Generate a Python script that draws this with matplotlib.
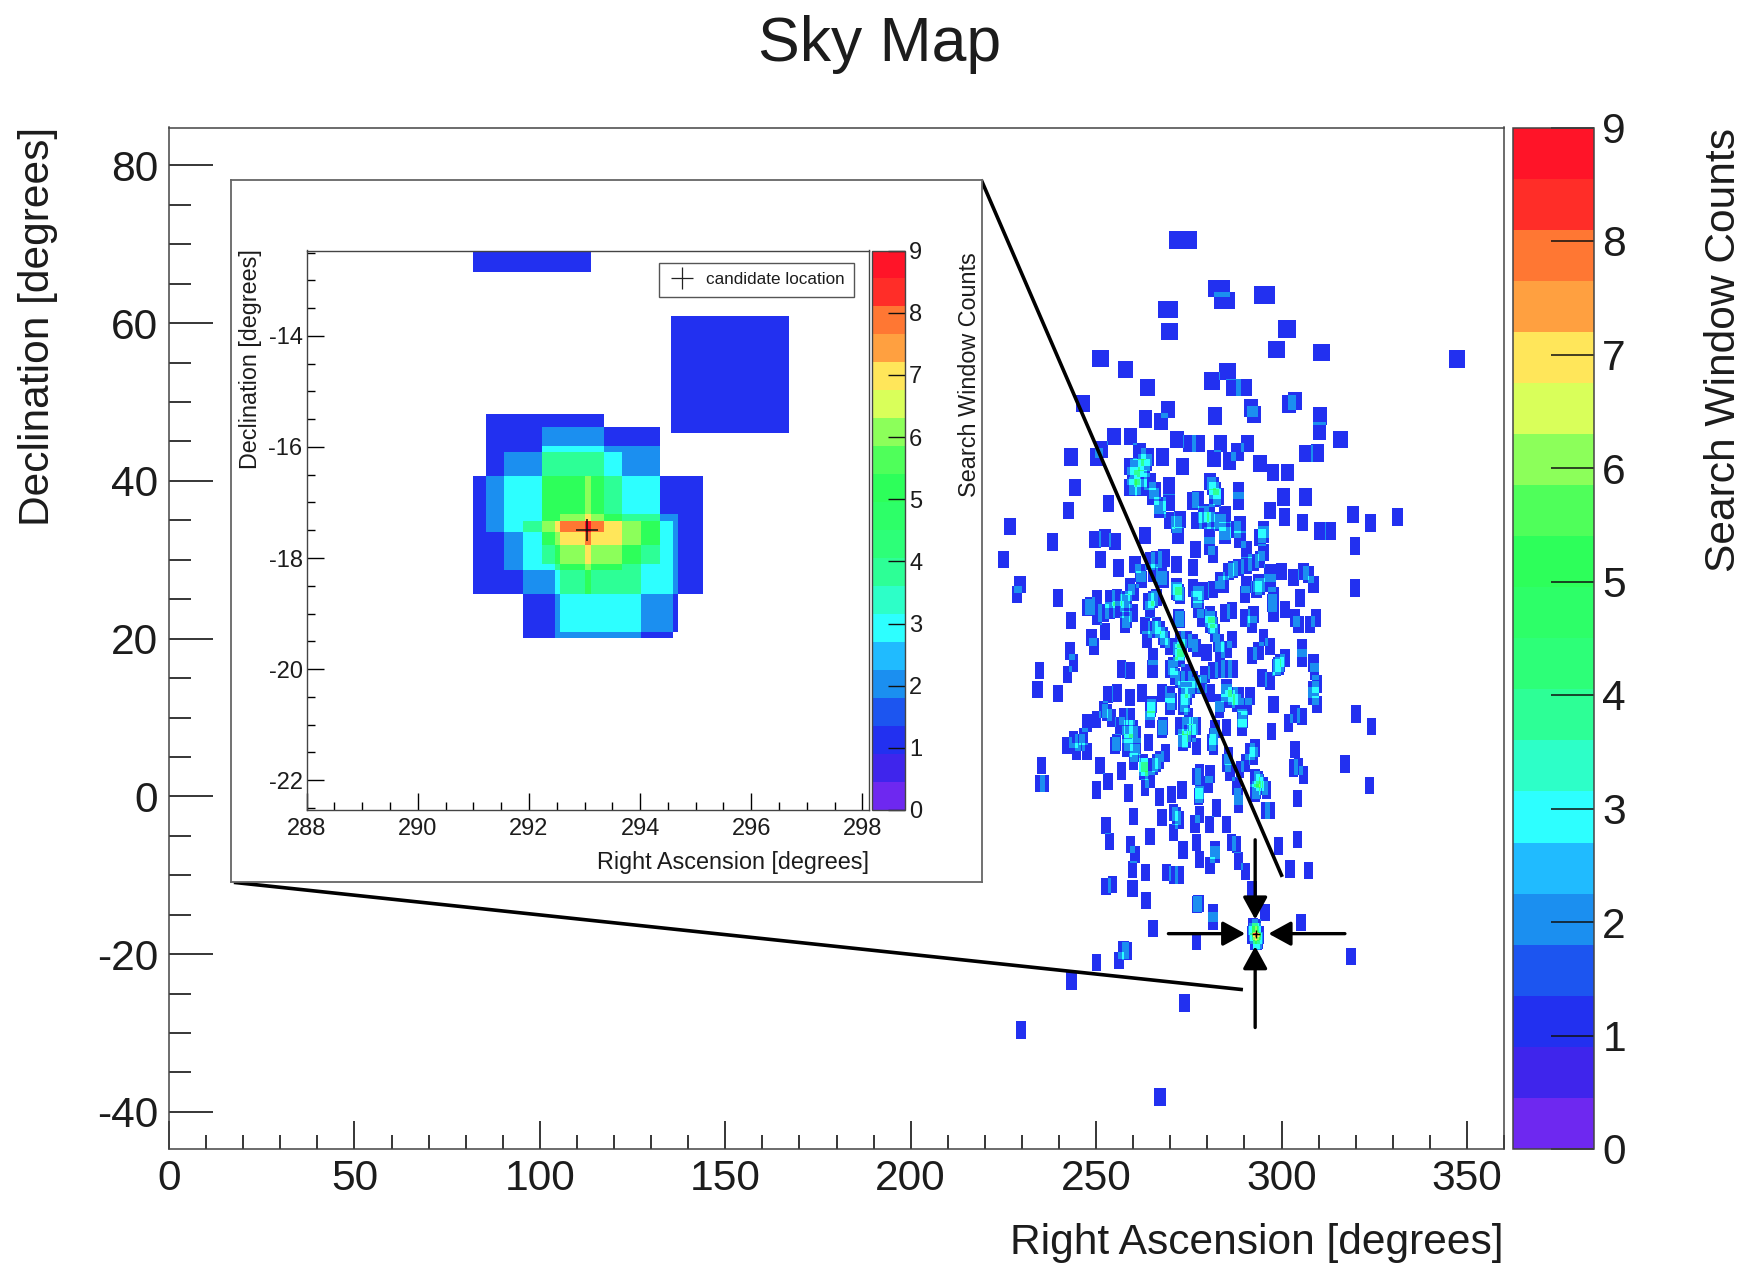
#!/usr/bin/env python3
"""Sky map of search window counts with a zoomed inset around the candidate."""
import matplotlib
matplotlib.use('Agg')
import matplotlib.pyplot as plt
from matplotlib.cm import ScalarMappable
from matplotlib.colors import BoundaryNorm, ListedColormap
from matplotlib.lines import Line2D
from matplotlib.ticker import MultipleLocator
import numpy as np

# Window centres, degrees
north_ra = [273.4, 283.2, 284.6, 295.4, 269.5, 269.8, 301.4, 298.7, 310.8, 251.1,
            257.9, 285.4, 281.3, 263.9, 287.0, 289.9, 246.5, 269.5, 263.4, 267.5,
            282.1, 291.7, 292.6, 303.7, 302.1, 310.4, 310.2, 315.9, 254.9, 259.2,
            271.7, 275.2, 277.6, 283.6, 290.9, 288.1, 251.5, 250.2, 243.2, 261.7,
            263.9, 267.9, 281.8, 285.9, 306.6, 309.7, 273.3, 294.2, 297.8, 301.7,
            259.2, 261.0, 262.8, 259.3, 262.0, 264.5, 265.4, 267.2, 269.7, 269.7,
            280.7, 282.1, 282.1, 288.4, 288.4, 244.3, 253.3, 242.5, 276.2, 277.6,
            300.5, 306.5, 296.9, 300.7, 305.7, 319.2, 324.1, 331.3, 226.8, 271.7,
            269.9, 278.9, 277.1, 279.4, 284.8, 283.4, 284.8, 288.8, 287.5, 295.1,
            294.2, 310.4, 313.1, 347.4, 263.2, 260.1, 261.9, 265.9, 281.6, 283.0,
            280.7, 281.6, 272.6, 260.5, 267.2]
north_dec = [70.5, 64.3, 62.8, 63.5, 61.7, 58.9, 59.2, 56.6, 56.2, 55.5,
             54.1, 53.8, 52.6, 51.8, 51.8, 51.8, 49.8, 49.0, 47.8, 47.5,
             48.2, 49.2, 48.4, 50.1, 49.7, 48.2, 46.3, 45.2, 45.6, 45.6,
             45.2, 44.7, 44.7, 44.7, 44.7, 43.6, 43.9, 43.0, 43.0, 43.7,
             43.0, 43.0, 42.8, 42.5, 43.4, 43.5, 41.8, 42.2, 41.0, 41.0,
             41.8, 41.6, 41.6, 39.1, 39.1, 39.9, 38.0, 36.8, 39.3, 37.2,
             39.9, 38.7, 37.8, 38.7, 37.4, 39.1, 37.1, 36.2, 37.4, 37.6,
             37.9, 37.9, 36.2, 35.4, 34.7, 35.7, 34.6, 35.4, 34.2, 34.4,
             34.9, 35.7, 34.9, 34.9, 35.7, 34.7, 33.6, 34.4, 33.8, 33.8,
             32.8, 33.6, 33.6, 55.4, 42.3, 40.6, 40.3, 38.7, 39.3, 38.0,
             35.9, 34.9, 35.1, 39.3, 36.3]

middle_ra = [238.3, 225.0, 229.5, 228.6, 239.8, 249.7, 252.4, 255.1, 251.1, 256.0,
             263.2, 260.5, 262.3, 266.3, 268.3, 271.7, 272.2, 276.7, 276.2, 280.7,
             281.6, 280.7, 284.8, 288.8, 290.6, 295.1, 295.1, 319.8, 319.8, 278.9,
             281.6, 284.3, 287.0, 290.6, 290.6, 290.2, 294.2, 296.9, 297.8, 300.1,
             303.2, 305.9, 308.6, 305.0, 301.0, 303.7, 304.6, 297.8, 307.7, 309.3,
             292.4, 290.2, 292.0, 286.6, 284.8, 280.7, 281.6, 283.0, 278.5, 277.1,
             277.6, 272.2, 272.2, 265.4, 264.5, 263.2, 263.7, 266.3, 268.1, 260.1,
             257.8, 253.8, 250.2, 248.4, 253.8, 250.2, 257.8, 260.1, 243.2, 252.4,
             248.8, 249.4, 243.0, 243.9, 234.7, 234.2, 242.3, 239.8, 256.9, 259.2,
             265.4, 265.2, 272.6, 270.8, 274.4, 277.1, 286.6, 283.4, 295.1, 296.9,
             292.0, 293.8, 299.2, 301.0, 305.5, 305.5, 308.6, 308.9, 294.7, 296.9,
             287.0, 285.2, 281.6, 279.4, 274.4, 273.5, 275.3, 280.7, 278.5, 262.3,
             255.6, 253.3, 259.2, 267.7, 269.9, 265.0, 264.5, 269.9, 259.2, 252.0,
             254.2, 247.5, 250.2, 273.5, 274.9, 285.2, 283.4, 286.1, 288.4, 291.5,
             289.7, 289.3, 297.8, 308.6, 309.5, 309.5, 303.7, 301.9, 305.5, 320.1,
             324.3, 297.4, 285.2, 282.1, 281.2, 268.1, 272.6, 273.5, 277.1, 276.2,
             256.5, 243.9, 246.6, 242.1, 244.8, 247.5, 258.3, 261.0, 255.1, 258.3,
             260.5, 264.1, 268.6, 266.3, 251.1, 253.3, 256.9, 258.7, 262.8, 260.1,
             264.5, 263.2, 277.1, 278.0, 280.7, 280.3, 285.2, 286.1, 290.2, 287.9,
             292.9, 291.5, 303.7, 303.2, 305.9, 304.6, 293.8, 295.1, 293.3, 317.1,
             323.7, 235.3, 236.2, 234.9, 250.2, 267.2, 270.4, 273.1]
middle_dec = [32.2, 30.0, 26.8, 25.6, 25.1, 32.5, 32.7, 32.3, 30.0, 28.9,
              33.0, 29.4, 27.5, 30.0, 30.2, 29.4, 33.0, 31.3, 29.0, 33.0,
              30.6, 31.7, 33.0, 32.5, 31.3, 33.2, 30.9, 31.7, 26.4, 26.0,
              26.2, 26.8, 28.7, 29.2, 26.8, 25.6, 26.6, 28.3, 25.4, 28.5,
              27.7, 28.5, 26.8, 25.1, 23.7, 22.6, 21.8, 23.2, 21.8, 22.6,
              23.0, 22.6, 21.8, 23.5, 23.2, 23.0, 21.6, 19.4, 22.6, 24.9,
              23.7, 25.8, 22.6, 24.9, 23.7, 21.6, 19.9, 21.6, 20.3, 25.8,
              24.5, 25.0, 25.0, 24.1, 23.5, 22.8, 21.8, 23.2, 22.3, 20.9,
              20.1, 19.0, 18.4, 16.9, 15.9, 13.5, 15.4, 13.0, 16.1, 15.9,
              17.7, 16.1, 18.2, 16.5, 19.9, 18.8, 19.9, 18.4, 20.1, 19.0,
              17.8, 18.4, 16.5, 17.5, 18.8, 17.5, 16.9, 15.8, 15.0, 14.6,
              16.1, 16.1, 15.9, 15.4, 15.6, 13.5, 13.5, 13.1, 14.2, 13.1,
              13.1, 12.9, 12.5, 13.1, 12.9, 11.2, 9.7, 11.4, 10.1, 11.0,
              9.9, 9.3, 9.7, 11.4, 10.1, 13.7, 11.0, 12.3, 12.7, 12.7,
              9.7, 8.7, 11.6, 12.7, 14.2, 11.6, 10.4, 9.3, 10.1, 10.4,
              8.8, 8.2, 8.7, 8.5, 6.8, 8.9, 8.9, 7.4, 6.3, 8.9,
              8.9, 7.2, 7.6, 6.4, 5.7, 5.7, 7.8, 7.8, 6.4, 6.1,
              5.5, 6.8, 5.5, 4.2, 3.9, 1.9, 3.2, 0.4, 3.7, 4.4,
              2.1, 1.1, 2.5, 0.2, 2.8, 1.5, 4.2, 3.0, 4.2, 1.3,
              6.1, 5.7, 5.9, 3.6, 2.7, 3.8, 2.1, 1.3, 0.8, 4.1,
              1.4, 3.9, 1.6, 1.6, 0.8, -0.1, 0.2, 0.8]

# More windows inside the dense band
dense_ra = [264.6, 271.7, 272.6, 271.7, 266.3, 264.1, 281.2, 280.7, 282.1, 272.2,
            272.6, 273.1, 299.6, 298.7, 265.0, 264.5, 289.3, 262.8, 262.8, 263.2,
            278.0, 277.6, 281.6, 281.6, 293.8, 293.3, 258.3, 273.5, 274.4, 270.4,
            274.4, 274.0, 272.6, 292.9, 294.2, 259.2, 268.1, 265.4, 267.7, 261.9,
            277.6, 276.2, 283.4, 285.7, 288.4, 292.4, 294.2, 296.9, 297.4, 307.3,
            247.5, 252.0, 255.6, 258.3, 256.0, 267.2, 265.4, 268.6, 276.2, 272.6,
            269.9, 279.8, 285.2, 271.3, 269.9, 272.6, 276.2, 277.1, 283.4, 287.0,
            285.2, 287.9, 290.6, 283.4, 274.4, 277.1, 275.8, 267.7, 258.7, 260.1,
            252.9, 257.4, 245.7, 258.7, 261.0, 255.6, 267.2, 265.4, 278.0, 285.7,
            288.8, 292.4, 296.0, 292.9, 288.4, 271.7, 308.6]
dense_dec = [29.8, 26.0, 25.4, 26.6, 25.2, 24.7, 22.4, 21.8, 20.7, 18.4,
             17.5, 18.8, 16.9, 16.3, 11.6, 10.8, 9.9, 4.2, 3.2, 3.7,
             0.8, 0.0, 7.6, 6.3, 27.0, 26.2, 22.4, 6.8, 7.2, 12.0,
             12.7, 11.8, 22.4, 2.3, 1.7, 26.6, 27.5, 28.3, 27.9, 28.3,
             25.6, 26.4, 27.3, 28.5, 29.0, 29.6, 30.0, 27.0, 24.5, 28.1,
             23.9, 23.2, 25.2, 24.9, 23.7, 21.1, 21.1, 19.9, 19.4, 19.9,
             19.0, 18.2, 18.6, 15.2, 16.1, 14.8, 14.8, 14.0, 16.1, 12.7,
             13.1, 11.8, 11.4, 11.8, 8.9, 8.9, 8.0, 8.5, 8.5, 8.5,
             10.6, 10.1, 6.8, 6.8, 6.3, 6.8, 4.6, 3.8, 3.0, 5.1,
             3.4, 5.1, 0.8, 0.4, 0.0, -2.5, 13.5]

south_ra = [288.4, 295.6, 296.9, 304.4, 282.4, 278.0, 267.7, 270.8, 272.6, 260.2,
            252.7, 276.7, 280.6, 285.2, 264.5, 270.8, 253.6, 259.2, 277.1, 286.6,
            287.9, 299.2, 304.4, 282.1, 260.5, 273.5, 278.0, 282.1, 280.7, 288.4,
            290.2, 302.3, 307.4, 259.8, 263.4, 269.0, 270.8, 272.6, 252.7, 254.4,
            259.8, 263.4, 277.6, 281.5, 281.5, 265.4, 305.3, 277.1, 257.4, 258.3,
            256.2, 250.1, 243.4, 318.8, 273.9, 229.8, 267.2, 277.3]
south_dec = [-1.0, -1.8, -1.8, -0.3, -1.5, -2.3, -2.7, -2.1, -3.0, -2.6,
             -3.7, -3.5, -3.6, -3.6, -5.1, -4.6, -5.7, -6.1, -5.9, -5.9,
             -6.1, -6.3, -5.5, -6.8, -7.4, -6.8, -8.0, -7.4, -8.8, -8.2,
             -9.5, -9.2, -9.4, -9.3, -9.7, -9.7, -10.0, -10.0, -11.4, -11.2,
             -11.7, -13.2, -13.6, -14.8, -15.8, -16.8, -16.0, -18.4, -19.5, -19.6,
             -20.8, -21.1, -23.4, -20.3, -26.2, -29.6, -38.1, -13.7]

# Windows that show up in the inset
inset_ra = [292.28, 293.28, 292.60, 293.28, 292.05, 294.06, 292.95, 293.61, 293.51,
            295.61, 292.05]
inset_dec = [-16.47, -16.71, -17.16, -17.05, -17.59, -17.59, -18.39, -18.27, -18.39,
             -14.70, -11.80]
candidate_ra = 293.05
candidate_dec = -17.5

band_colors = ['#6e28f0', '#3f25ec', '#2230f0', '#1c55f0', '#1b8ff0', '#20bbff', '#2dffff',
               '#2dffc8', '#2dff96', '#2dff78', '#2dff68', '#2dff5a', '#4fff5a', '#8cff5a',
               '#d9ff5a', '#ffe65a', '#ffa040', '#ff7733', '#ff2d28', '#ff1428']
count_ticks = list(range(10))

WIDTH, HEIGHT = 1755, 1287
TEXT = '#1c1c1c'
FRAME = '#444444'

plt.rcParams['font.family'] = ['Liberation Sans', 'DejaVu Sans']
plt.rcParams['axes.unicode_minus'] = False
plt.rcParams['text.color'] = TEXT
plt.rcParams['xtick.labelcolor'] = TEXT
plt.rcParams['ytick.labelcolor'] = TEXT


def px_rect(left, top, right, bottom):
    """Pixel box (y down) to a figure-fraction rectangle."""
    return [left / WIDTH, 1 - bottom / HEIGHT, (right - left) / WIDTH, (bottom - top) / HEIGHT]


def px_text(fig, x, y, s, **kwargs):
    fig.text(x / WIDTH, 1 - y / HEIGHT, s, **kwargs)


def window_counts(ra, dec, ra_edges, dec_edges, width_of, height):
    """Count how many search windows cover each cell of a fine grid."""
    ra_mid = (ra_edges[:-1] + ra_edges[1:]) / 2
    dec_mid = (dec_edges[:-1] + dec_edges[1:]) / 2
    counts = np.zeros((len(dec_mid), len(ra_mid)))
    for r, d in zip(ra, dec, strict=True):
        half_w = width_of(d) / 2
        in_ra = np.abs(ra_mid - r) <= half_w
        in_dec = np.abs(dec_mid - d) <= height / 2
        counts[np.ix_(in_dec, in_ra)] += 1
    return np.ma.masked_equal(counts, 0)


def draw_colorbar(fig, cax, sm, fontsize, tick_len, pad, lw):
    cb = fig.colorbar(sm, cax=cax, ticks=count_ticks, spacing='proportional')
    cb.ax.minorticks_off()
    cb.ax.tick_params(which='major', direction='in', length=tick_len, width=lw,
                      color='#111111', labelsize=fontsize, pad=pad)
    cb.outline.set_edgecolor(FRAME)
    cb.outline.set_linewidth(lw)
    cb.set_ticklabels([str(t) for t in count_ticks])
    return cb


cmap = ListedColormap(band_colors)
cmap.set_bad((1, 1, 1, 0))
norm = BoundaryNorm(np.linspace(0, 9, len(band_colors) + 1), cmap.N, clip=True)
sm = ScalarMappable(norm=norm, cmap=cmap)

fig = plt.figure(figsize=(WIDTH / 100, HEIGHT / 100), dpi=100)

# Main sky map
ax = fig.add_axes(px_rect(169, 127.5, 1504, 1149))
ra_edges = np.arange(0, 360.01, 0.2)
dec_edges = np.arange(-45, 85.01, 0.1)
all_ra = north_ra + middle_ra + dense_ra + south_ra + inset_ra
all_dec = north_dec + middle_dec + dense_dec + south_dec + inset_dec
main_counts = window_counts(all_ra, all_dec, ra_edges, dec_edges,
                            lambda d: 2.55 / np.cos(np.radians(d)), 2.2)
ax.imshow(main_counts, extent=[0, 360, -45, 85], origin='lower', aspect='auto',
          cmap=cmap, norm=norm, interpolation='nearest')
ax.set_xlim(0, 360)
ax.set_ylim(-44.7, 84.8)
ax.xaxis.set_major_locator(MultipleLocator(50))
ax.xaxis.set_minor_locator(MultipleLocator(10))
ax.yaxis.set_major_locator(MultipleLocator(20))
ax.yaxis.set_minor_locator(MultipleLocator(5))
ax.tick_params(axis='x', which='major', direction='in', length=20, width=1.1, labelsize=30.6, pad=7.5)
ax.tick_params(axis='x', which='minor', direction='in', length=10, width=1.1)
ax.tick_params(axis='y', which='major', direction='in', length=32, width=1.1, labelsize=30.6, pad=8)
ax.tick_params(axis='y', which='minor', direction='in', length=16, width=1.1)
for spine in ax.spines.values():
    spine.set_color(FRAME)
    spine.set_linewidth(1.1)
ax.plot([candidate_ra], [candidate_dec], marker='+', ms=6, mew=1, color='black', zorder=5)

# Pointers towards the candidate
arrow_style = dict(arrowstyle='-|>,head_length=0.62,head_width=0.34', color='black', lw=2.4,
                   shrinkA=0, shrinkB=0, mutation_scale=22)
for start, tip in [((292.9, -5.5), (292.9, -15.6)), ((292.9, -29.3), (292.9, -19.0)),
                   ((269.5, -17.4), (290.2, -17.4)), ((317.1, -17.4), (296.5, -17.4))]:
    ax.annotate('', xy=tip, xytext=start, arrowprops=arrow_style, zorder=6)

# Lines from the inset corners to the candidate
ax.plot([219.0, 300.2], [78.2, -10.2], color='black', lw=2.6, zorder=4, solid_capstyle='butt')
ax.plot([17.5, 289.6], [-10.9, -24.5], color='black', lw=2.6, zorder=4, solid_capstyle='butt')

cax = fig.add_axes(px_rect(1513, 127.5, 1594, 1149))
draw_colorbar(fig, cax, sm, 30.6, 31, 6, 1.1)

px_text(fig, 880, 45, 'Sky Map', fontsize=45, ha='center', va='center')
px_text(fig, 1504, 1243, 'Right Ascension [degrees]', fontsize=30.6, ha='right', va='center')
px_text(fig, 38, 127, 'Declination [degrees]', fontsize=30.6, rotation=90, ha='center', va='top')
px_text(fig, 1724, 128, 'Search Window Counts', fontsize=30.6, rotation=90, ha='center', va='top')

# Inset panel
pad = fig.add_axes(px_rect(231, 180, 982, 882), zorder=10)
pad.set_xticks([])
pad.set_yticks([])
for spine in pad.spines.values():
    spine.set_color('#666666')
    spine.set_linewidth(1.3)

inset = fig.add_axes(px_rect(306.7, 250.5, 869, 810), zorder=11)
in_ra_edges = np.arange(288, 298.125, 0.01)
in_dec_edges = np.arange(-22.54, -12.455, 0.01)
inset_counts = window_counts(inset_ra, inset_dec, in_ra_edges, in_dec_edges,
                             lambda d: 2.12, 2.12)
inset.imshow(inset_counts, extent=[in_ra_edges[0], in_ra_edges[-1], in_dec_edges[0], in_dec_edges[-1]],
             origin='lower', aspect='auto', cmap=cmap, norm=norm, interpolation='nearest')
inset.set_xlim(288, 298.12)
inset.set_ylim(-22.54, -12.46)
inset.xaxis.set_major_locator(MultipleLocator(2))
inset.xaxis.set_minor_locator(MultipleLocator(0.5))
inset.yaxis.set_major_locator(MultipleLocator(2))
inset.yaxis.set_minor_locator(MultipleLocator(0.5))
inset.tick_params(which='major', direction='in', length=12, width=1, labelsize=17, pad=6)
inset.tick_params(which='minor', direction='in', length=6, width=1)
inset.tick_params(axis='y', which='major', pad=3)
for spine in inset.spines.values():
    spine.set_color(FRAME)
    spine.set_linewidth(1)
inset.plot([candidate_ra], [candidate_dec], marker='+', ms=16, mew=1.1, color='#111111', ls='none')

handle = Line2D([], [], marker='+', ms=16, mew=0.9, ls='none', color='#222222')
legend = inset.legend([handle], ['candidate location'], loc='upper right',
                      bbox_to_anchor=(0.9733, 0.978), borderaxespad=0, fontsize=12.3,
                      fancybox=False, framealpha=1, edgecolor='#555555', borderpad=0.55,
                      handletextpad=0.6, handlelength=1.6)
legend.get_frame().set_linewidth(1)

inset_cax = fig.add_axes(px_rect(872, 250.5, 905, 810), zorder=11)
draw_colorbar(fig, inset_cax, sm, 17, 12, 3, 1)

inset_text = dict(fontsize=16.8, zorder=12)
px_text(fig, 869, 862, 'Right Ascension [degrees]', ha='right', va='center', **inset_text)
px_text(fig, 250, 249, 'Declination [degrees]', rotation=90, ha='center', va='top', **inset_text)
px_text(fig, 970, 252, 'Search Window Counts', rotation=90, ha='center', va='top', **inset_text)

fig.savefig('out.png', dpi=100)
